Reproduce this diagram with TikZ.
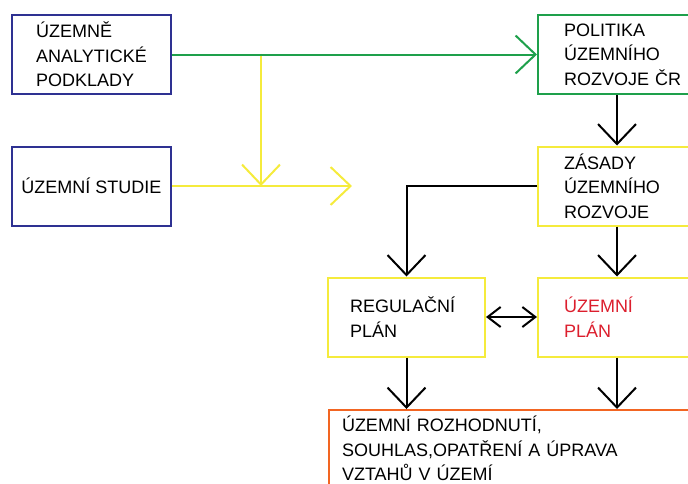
\documentclass[tikz,border=0pt]{standalone}
\usepackage{fontspec}
\setmainfont{Liberation Sans}
\usepackage{tikz}
\usetikzlibrary{arrows.meta, positioning}
\definecolor{navy}{RGB}{46,49,146}
\definecolor{leaf}{RGB}{30,160,75}
\definecolor{lemon}{RGB}{245,235,60}
\definecolor{tangerine}{RGB}{242,101,34}
\definecolor{crimson}{RGB}{220,30,45}
\tikzstyle{doc} = [rectangle, draw, line width=2pt, align=left, inner ysep=0pt,
    minimum height=79pt, font=\fontsize{18}{24.5}\selectfont]
\tikzstyle{source} = [doc, draw=navy, minimum width=159pt]
\tikzstyle{policy} = [doc, draw=leaf, text width=106pt, inner xsep=26pt]
\tikzstyle{plan} = [doc, draw=lemon, text width=106pt, inner xsep=26pt]
\tikzstyle{decision} = [doc, draw=tangerine, text width=360pt, inner xsep=13pt,
    inner ysep=6pt, minimum height=0pt]
\tikzstyle{line} = [draw, line width=2pt, -{Straight Barb[length=20pt,width=38pt]}]
\tikzstyle{both} = [draw, line width=2pt,
    {Straight Barb[length=13pt,width=20pt]}-{Straight Barb[length=13pt,width=20pt]}]

\begin{document}
\begin{tikzpicture}[x=1pt, y=-1pt]
    \useasboundingbox (0,0) rectangle (688,483);
    \clip (0,0) rectangle (688,483);
    % Nodes
    \node [source] (uap) at (91.5,54.5) {ÚZEMNĚ\\ANALYTICKÉ\\PODKLADY};
    \node [source, align=center, below of=uap, node distance=131.5pt] (us) {ÚZEMNÍ STUDIE};
    \node [policy, right of=uap, node distance=525.5pt] (prcr) {POLITIKA\\ÚZEMNÍHO\\ROZVOJE~ČR};
    \node [plan, below of=prcr, node distance=131.5pt] (zur) {ZÁSADY\\ÚZEMNÍHO\\ROZVOJE};
    \node [plan, text=crimson, below of=zur, node distance=131pt] (up) {ÚZEMNÍ\\PLÁN};
    \node [plan, text width=113pt, inner xsep=22pt, left of=up, node distance=210.5pt] (rp) {REGULAČNÍ\\PLÁN};
    \node [decision, anchor=north west] (roz) at (328,409)
        {ÚZEMNÍ ROZHODNUTÍ,\\SOUHLAS,OPATŘENÍ A ÚPRAVA\\VZTAHŮ V ÚZEMÍ};
    \coordinate (fork) at (261,53.5);
    \coordinate (join) at (261,186);
    \coordinate (studyend) at (352,186);
    % Edges
    \path [line, lemon] (fork) -- (join);
    \path [line, lemon] (us) -- (studyend);
    \path [line, leaf] (uap) -- (prcr);
    \path [line] (prcr) -- (zur);
    \path [line] (zur.west) -| (rp.north);
    \path [line] (zur) -- (up);
    \path [both] (rp) -- (up);
    \path [line] (rp.south) -- (rp.south |- roz.north);
    \path [line] (up.south) -- (up.south |- roz.north);
\end{tikzpicture}
\end{document}
